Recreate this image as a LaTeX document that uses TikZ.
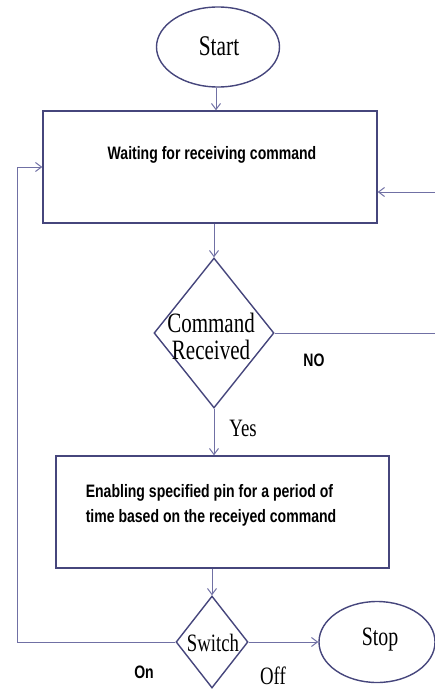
\documentclass[tikz,border=0pt]{standalone}
\usepackage{fontspec}
\usetikzlibrary{shapes.geometric,arrows.meta}
\newfontfamily\serifa[FakeStretch=0.75]{Liberation Serif}
\newfontfamily\sansb[FakeStretch=0.78]{Liberation Sans Bold}
\definecolor{borde}{HTML}{46467C}
\definecolor{linea}{HTML}{7070A4}
\tikzset{
  terminal/.style={ellipse, draw=borde, line width=1.4pt, inner sep=0pt},
  caja/.style={rectangle, draw=borde, line width=1.4pt, inner sep=0pt},
  rombo/.style={diamond, draw=borde, line width=1.4pt, inner sep=0pt},
  flecha/.style={draw=linea, line width=1pt, -{Straight Barb[length=6pt,width=9pt]}},
  textoserif/.style={font=\serifa\fontsize{25}{27}\selectfont, inner sep=0pt, align=center},
  textosans/.style={font=\sansb\fontsize{18}{25}\selectfont, inner sep=0pt, align=left}
}
\begin{document}
\begin{tikzpicture}[x=1pt, y=-1pt]
    \useasboundingbox (0,0) rectangle (435,690);

    % Bloques
    \node[terminal, minimum width=123pt, minimum height=80pt] (inicio) at (218,47) {};
    \node[textoserif, font=\serifa\fontsize{28.5}{30}\selectfont] (tinicio) at (219,46) {Start};

    \node[caja, minimum width=334pt, minimum height=112pt] (espera) at (210,167) {};
    \node[textosans] (tespera) at (212,155) {Waiting for receiving command};

    \node[rombo, minimum width=120pt, minimum height=150pt] (decision) at (214,333) {};
    \node[textoserif, font=\serifa\fontsize{28}{27}\selectfont] (tdecision) at (211,336) {Command\\Received};

    \node[caja, minimum width=333pt, minimum height=112pt] (accion) at (222.5,512) {};
    \node[textosans] (taccion) at (211,505) {Enabling specified pin for a period of\\time based on the receiyed command};

    \node[rombo, minimum width=72pt, minimum height=92pt] (interruptor) at (212,642) {};
    \node[textoserif] (tinterruptor) at (213,643) {Switch};

    \node[terminal, minimum width=116pt, minimum height=81pt] (fin) at (377,642) {};
    \node[textoserif, font=\serifa\fontsize{26.5}{27}\selectfont] (tfin) at (380,640) {Stop};

    % Conectores
    \coordinate (izq) at (17,0);
    \coordinate (der) at (445,0);
    \draw[flecha] (inicio.south -| 216,0) -- (espera.north -| 216,0);
    \draw[flecha] (decision.north |- espera.south) -- (decision.north);
    \draw[flecha] (decision.south) -- (decision.south |- accion.north);
    \draw[flecha] (interruptor.north |- accion.south) -- (interruptor.north);
    \draw[flecha] (interruptor.east) -- (fin.west);
    \draw[flecha] (interruptor.west) -- (interruptor.west -| izq) |- (espera.west);
    \draw[flecha] (decision.east) -- (decision.east -| der) |- ([yshift=-25pt]espera.east);

    % Etiquetas
    \node[textosans] (no) at (314,360) {NO};
    \node[textoserif] (si) at (243,428) {Yes};
    \node[textosans] (on) at (144,672) {On};
    \node[textoserif] (off) at (273,676) {Off};
\end{tikzpicture}
\end{document}
